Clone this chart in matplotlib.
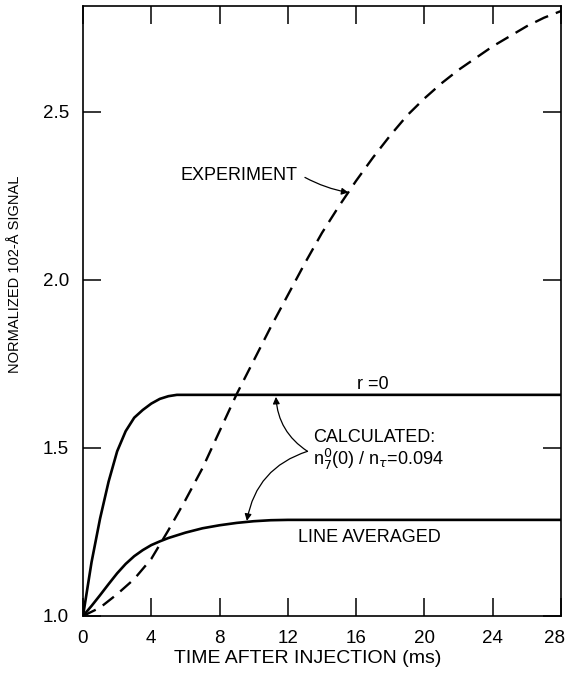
import matplotlib
matplotlib.use("Agg")
import matplotlib.pyplot as plt
from matplotlib.transforms import ScaledTranslation

# (time in ms, normalized signal)
t_r0 = [0, 0.25, 0.5, 1, 1.5, 2, 2.5, 3, 3.5, 4, 4.5, 5, 5.5, 6, 28]
sig_r0 = [1.0, 1.08, 1.16, 1.29, 1.40, 1.49, 1.55, 1.59, 1.613, 1.632, 1.646, 1.654, 1.658, 1.658, 1.658]

t_avg = [0, 0.5, 1, 1.5, 2, 2.5, 3, 3.5, 4, 4.5, 5, 6, 7, 8, 9, 10, 11, 12, 28]
sig_avg = [1.0, 1.03, 1.062, 1.095, 1.127, 1.155, 1.178, 1.196, 1.211, 1.222, 1.232,
           1.248, 1.261, 1.27, 1.277, 1.282, 1.285, 1.286, 1.286]

t_exp = [0, 1, 2, 3, 4, 5, 6, 7, 8, 9, 10, 11, 12, 13, 14, 15, 16, 17, 18, 19,
         20, 21, 22, 23, 24, 25, 26, 27, 28]
sig_exp = [1.0, 1.025, 1.065, 1.11, 1.17, 1.255, 1.345, 1.44, 1.55, 1.66, 1.76, 1.86,
           1.955, 2.05, 2.14, 2.22, 2.295, 2.365, 2.43, 2.49, 2.54, 2.585, 2.625,
           2.66, 2.695, 2.725, 2.755, 2.78, 2.80]

xticks = [0, 4, 8, 12, 16, 20, 24, 28]
yticks = [1.0, 1.5, 2.0, 2.5]

plt.rcParams['font.family'] = ['Liberation Sans', 'DejaVu Sans']

fig = plt.figure(figsize=(5.7, 6.75), dpi=100)
ax = fig.add_axes([83 / 570, 59 / 675, 478 / 570, 610 / 675])

ax.plot(t_r0, sig_r0, color='black', lw=1.9)
ax.plot(t_avg, sig_avg, color='black', lw=1.9)
ax.plot(t_exp, sig_exp, color='black', lw=1.7, dashes=(6, 3.5))

ax.set_xlim(0, 28)
ax.set_ylim(1.0, 2.815)
ax.set_xticks(xticks)
ax.set_yticks(yticks)
ax.set_yticklabels(['1.0', '1.5', '2.0', '2.5'])
ax.tick_params(direction='in', length=13, width=1.1, labelsize=13.5, pad=10,
               top=True, right=True)
for s in ax.spines.values():
    s.set_linewidth(1.2)

# last x label sits a bit to the left so it stays on the page
last = ax.get_xticklabels()[-1]
last.set_transform(last.get_transform() + ScaledTranslation(-5 / 72, 0, fig.dpi_scale_trans))

ax.set_xlabel('TIME AFTER INJECTION (ms)', fontsize=14)
ax.xaxis.set_label_coords(0.47, -0.056)
ax.set_ylabel('NORMALIZED 102-Å SIGNAL', fontsize=10.5)
ax.yaxis.set_label_coords(-0.128, 0.56)

ax.text(5.7, 2.31, 'EXPERIMENT', fontsize=13, va='center', ha='left')
ax.annotate('', xy=(15.55, 2.26), xytext=(13.0, 2.305),
            arrowprops=dict(arrowstyle='-|>', color='black', lw=0.9,
                            mutation_scale=10, shrinkA=0, shrinkB=0,
                            connectionstyle='arc3,rad=0.08'))

ax.text(17.0, 1.69, 'r =0', fontsize=13, ha='center', va='center')
ax.text(13.5, 1.53, 'CALCULATED:', fontsize=13, ha='left', va='center')
ax.text(13.5, 1.465, r'n$_7^0$(0) / n$_\tau$=0.094', fontsize=13, ha='left', va='center')
ax.annotate('', xy=(11.3, 1.652), xytext=(13.15, 1.49),
            arrowprops=dict(arrowstyle='-|>', color='black', lw=0.9,
                            mutation_scale=10, shrinkA=0, shrinkB=0,
                            connectionstyle='arc3,rad=-0.25'))
ax.annotate('', xy=(9.6, 1.283), xytext=(13.15, 1.49),
            arrowprops=dict(arrowstyle='-|>', color='black', lw=0.9,
                            mutation_scale=10, shrinkA=0, shrinkB=0,
                            connectionstyle='arc3,rad=0.3'))
ax.text(16.8, 1.235, 'LINE AVERAGED', fontsize=13, ha='center', va='center')

fig.savefig('out.png', dpi=100)
